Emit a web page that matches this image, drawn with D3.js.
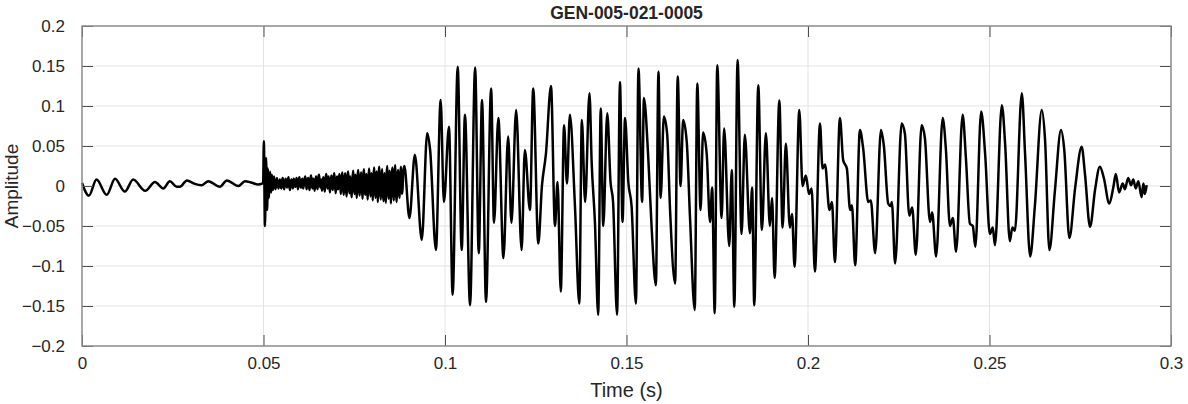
<!DOCTYPE html>
<html>
<head>
<meta charset="utf-8">
<script src="https://cdn.jsdelivr.net/npm/d3@7"></script>
<style>
  body { margin: 0; background: #fff; }
  svg text { font-family: "Liberation Sans", Arial, sans-serif; fill: #262626; }
</style>
</head>
<body>
<div class="chart"></div>
<script>
// Chart size
const width = 1188;
const height = 404;
const margin = {top: 26, right: 17, bottom: 58, left: 82};
const plotW = width - margin.left - margin.right;
const plotH = height - margin.top - margin.bottom;

const chartTitle = "GEN-005-021-0005";
const xLabel = "Time (s)";
const yLabel = "Amplitude";

const xTicks = [0, 0.05, 0.1, 0.15, 0.2, 0.25, 0.3];
const yTicks = [-0.2, -0.15, -0.1, -0.05, 0, 0.05, 0.1, 0.15, 0.2];

// Start: slow small wobble and the click at 0.05 s  (time s, amplitude)
const introTime = [0, 0.0019, 0.0040, 0.0068, 0.0091, 0.0118, 0.0141, 0.0174, 0.0201, 0.0224,
  0.0242, 0.0261, 0.0270, 0.0289, 0.0309, 0.0330, 0.0348, 0.0380, 0.0399, 0.0431,
  0.0449, 0.0468, 0.0485, 0.0496, 0.0499, 0.0501, 0.0504, 0.0507, 0.0510, 0.0512,
  0.0515, 0.0518, 0.0521, 0.0523, 0.0526, 0.0529, 0.0533, 0.0537, 0.0541];
const introAmp = [0.004, -0.012, 0.008, -0.011, 0.009, -0.007, 0.008, -0.006, 0.005, -0.003,
  0.006, -0.001, -0.001, 0.007, 0.003, 0.001, 0.006, -0.001, 0.007, 0.000,
  0.006, 0.004, 0.002, 0.003, 0.004, 0.056, -0.050, 0.035, -0.030, 0.022,
  -0.015, 0.018, -0.008, 0.014, -0.005, 0.012, -0.004, 0.010, -0.003];

// Noisy stretch before voicing, sampled every 0.2 ms from 0.0545 s
const noiseStart = 0.0545;
const noiseStep = 0.0002;
const noiseAmp = [
  0.008, 0.002, -0.003, 0.006, 0.010, 0.001, -0.004, 0.005, 0.009, 0.003,
  -0.002, 0.007, 0.011, 0.000, -0.005, 0.004, 0.008, 0.002, -0.003, 0.009,
  0.006, -0.001, 0.003, 0.010, 0.004, -0.004, 0.007, 0.011, 0.002, -0.002,
  0.005, 0.009, -0.003, 0.001, 0.008, 0.012, 0.003, -0.004,
  0.006, 0.010, 0.000, -0.005, 0.008, 0.013, 0.002, -0.003, 0.009, 0.004,
  -0.006, 0.007, 0.012, 0.001, -0.004, 0.010, 0.014, 0.003, -0.002, 0.008,
  -0.006, 0.005, 0.011, 0.000, -0.007, 0.009, 0.015, 0.004, -0.003, 0.012,
  0.006, -0.008, 0.003, 0.013, 0.001, -0.005, 0.010, 0.016, 0.002, -0.009,
  0.007, 0.012, -0.004, 0.000, 0.015, 0.005, -0.010, 0.008, 0.017, 0.001,
  -0.011, 0.006, 0.016, -0.002, -0.013, 0.010, 0.018, 0.003, -0.009, 0.012,
  -0.004, -0.014, 0.008, 0.019, 0.000, -0.010, 0.014, 0.005, -0.015, 0.011,
  0.020, -0.003, -0.012, 0.009, 0.017, 0.002, -0.016, 0.013, 0.021, -0.006,
  -0.011, 0.015, 0.004, -0.017, 0.010, 0.022, -0.001, -0.013, 0.016, 0.007,
  -0.018, 0.012, 0.023, -0.004, -0.015, 0.018, 0.008, -0.020, 0.014, 0.024,
  -0.002, -0.017, 0.011, 0.021, -0.009, -0.019, 0.016, 0.006, -0.021, 0.013,
  0.025, -0.005, -0.016, 0.019, 0.009, -0.022, 0.010, 0.023, -0.003, -0.018,
  0.017, 0.026, -0.008, -0.020, 0.012, 0.020, -0.006, -0.015, 0.015, 0.024,
  -0.010, -0.004, 0.018
];

// Voiced part: peaks, troughs and shoulders
const voiceTime = [0.0888, 0.0902, 0.0917, 0.0936, 0.0951, 0.0959, 0.0975, 0.0988, 0.0997, 0.1011,
  0.1021, 0.1035, 0.1046, 0.1055, 0.1069, 0.1083, 0.1093, 0.1102, 0.1113, 0.1127,
  0.1135, 0.1147, 0.1161, 0.1174, 0.1183, 0.1196, 0.1211, 0.1220, 0.1234, 0.1243,
  0.1257, 0.1267, 0.1278, 0.1292, 0.1303, 0.1310, 0.1319, 0.1328, 0.1336, 0.1344,
  0.1358, 0.1370, 0.1377, 0.1386, 0.1398, 0.1404, 0.1413, 0.1422, 0.1429, 0.1436,
  0.1447, 0.1456, 0.1463, 0.1474, 0.1482, 0.1489, 0.1496, 0.1505, 0.1514, 0.1526,
  0.1533, 0.1543, 0.1548, 0.1560, 0.1569, 0.1581, 0.1588, 0.1594, 0.1603, 0.1612,
  0.1620, 0.1634, 0.1641, 0.1649, 0.1656, 0.1666, 0.1675, 0.1688, 0.1695, 0.1704,
  0.1711, 0.1721, 0.1730, 0.1736, 0.1743, 0.1750, 0.1762, 0.1769, 0.1783, 0.1790,
  0.1797, 0.1806, 0.1817, 0.1826, 0.1840, 0.1846, 0.1852, 0.1863, 0.1873, 0.1884,
  0.1895, 0.1901, 0.1908, 0.1921, 0.1930, 0.1939, 0.1950, 0.1956, 0.1963, 0.1976,
  0.1985, 0.1994, 0.2003, 0.2010, 0.2019, 0.2033, 0.2040, 0.2047, 0.2059, 0.2066,
  0.2074, 0.2088, 0.2097, 0.2107, 0.2116, 0.2121, 0.2130, 0.2143, 0.2152, 0.2166,
  0.2173, 0.2185, 0.2201, 0.2209, 0.2221, 0.2228, 0.2231, 0.2240, 0.2258, 0.2267,
  0.2279, 0.2287, 0.2297, 0.2313, 0.2322, 0.2336, 0.2342, 0.2353, 0.2371, 0.2380,
  0.2391, 0.2399, 0.2408, 0.2426, 0.2435, 0.2446, 0.2454, 0.2461, 0.2477, 0.2488,
  0.2501, 0.2509, 0.2515, 0.2534, 0.2543, 0.2556, 0.2563, 0.2570, 0.2589, 0.2598,
  0.2612, 0.2625, 0.2644, 0.2653, 0.2665, 0.2680, 0.2697, 0.2706, 0.2720, 0.2736,
  0.2754, 0.2763, 0.2777, 0.2791, 0.2804, 0.2815, 0.2830, 0.2841, 0.2848, 0.2857,
  0.2867, 0.2873, 0.2882, 0.2890, 0.2896, 0.2903, 0.2910, 0.2919, 0.2924, 0.2928,
  0.2933];
const voiceAmp = [0.025, -0.040, 0.039, -0.0675, 0.066, 0.045, -0.080, 0.1075, -0.020, 0.074,
  -0.136, 0.149, -0.080, 0.089, -0.149, 0.148, -0.084, 0.1075, -0.145, 0.122,
  -0.046, 0.085, -0.090, 0.062, -0.046, 0.095, -0.080, 0.045, -0.030, 0.122,
  -0.072, 0.000, 0.040, 0.125, -0.050, 0.005, -0.132, 0.076, 0.003, 0.089,
  -0.025, -0.147, 0.0825, -0.020, 0.116, 0.030, -0.045, -0.161, 0.097, -0.050,
  0.091, 0.005, -0.020, -0.161, 0.130, -0.045, 0.085, 0.005, -0.025, -0.147,
  0.147, -0.020, 0.110, 0.035, -0.050, -0.124, 0.143, -0.015, 0.087, 0.065,
  -0.030, -0.122, 0.137, 0.000, 0.0825, 0.055, -0.040, -0.155, 0.128, -0.030,
  0.067, 0.040, -0.045, -0.002, -0.159, 0.151, -0.040, 0.072, -0.075, 0.020,
  -0.151, 0.1575, -0.060, 0.064, -0.059, -0.002, -0.149, 0.126, -0.055, 0.066,
  -0.050, -0.015, -0.115, 0.107, -0.052, 0.053, -0.052, -0.035, -0.101, 0.095,
  0.000, 0.013, -0.010, -0.003, -0.107, 0.078, 0.022, 0.027, -0.030, -0.020,
  -0.095, 0.085, 0.032, 0.022, -0.030, -0.024, -0.099, 0.070, 0.047, -0.020,
  -0.018, -0.084, 0.070, 0.050, -0.022, -0.025, -0.020, -0.097, 0.078, 0.065,
  -0.037, -0.027, -0.086, 0.076, 0.060, -0.045, -0.033, -0.088, 0.085, 0.045,
  -0.050, -0.040, -0.082, 0.089, 0.035, -0.047, -0.050, -0.076, 0.093, 0.040,
  -0.060, -0.052, -0.074, 0.101, 0.053, -0.069, -0.052, -0.056, 0.116, 0.040,
  -0.088, -0.025, 0.095, 0.058, -0.080, -0.007, 0.070, 0.045, -0.065, -0.002,
  0.049, 0.015, -0.051, -0.004, 0.024, 0.010, -0.022, -0.002, 0.015, -0.008,
  0.003, -0.004, 0.010, 0.001, 0.008, -0.003, 0.006, -0.014, 0.003, -0.010,
  0.001];

// Build the sample list
const samples = [];
introTime.forEach((t, i) => samples.push([t, introAmp[i]]));
noiseAmp.forEach((a, i) => samples.push([noiseStart + i * noiseStep, a]));
voiceTime.forEach((t, i) => samples.push([t, voiceAmp[i]]));

const svg = d3.select(".chart").append("svg")
  .attr("width", width)
  .attr("height", height)
  .style("background", "#fff");

const g = svg.append("g")
  .attr("transform", `translate(${margin.left},${margin.top})`);

const x = d3.scaleLinear().domain([0, 0.3]).range([0, plotW]);
const y = d3.scaleLinear().domain([-0.2, 0.2]).range([plotH, 0]);

// grid
g.append("g").selectAll("line").data(xTicks.slice(1, -1)).join("line")
  .attr("x1", d => x(d)).attr("x2", d => x(d))
  .attr("y1", 0).attr("y2", plotH)
  .attr("stroke", "#e3e3e3").attr("stroke-width", 1);
g.append("g").selectAll("line").data(yTicks.slice(1, -1)).join("line")
  .attr("x1", 0).attr("x2", plotW)
  .attr("y1", d => y(d)).attr("y2", d => y(d))
  .attr("stroke", "#e3e3e3").attr("stroke-width", 1);

// waveform
const line = d3.line()
  .curve(d3.curveMonotoneX)
  .x(d => x(d[0]))
  .y(d => y(d[1]));

g.append("path")
  .datum(samples)
  .attr("fill", "none")
  .attr("stroke", "#000")
  .attr("stroke-width", 2.5)
  .attr("stroke-linejoin", "round")
  .attr("d", line);

// axes, MATLAB style ticks pointing inward on all four sides
const fmt = d => d3.format("")(+d.toFixed(2));
const tickLen = 11;

const axisBottom = d3.axisBottom(x).tickValues(xTicks).tickFormat(fmt).tickSizeInner(-tickLen).tickSizeOuter(0).tickPadding(11);
const axisTop = d3.axisTop(x).tickValues(xTicks).tickFormat("").tickSizeInner(-tickLen).tickSizeOuter(0);
const axisLeft = d3.axisLeft(y).tickValues(yTicks).tickFormat(fmt).tickSizeInner(-tickLen).tickSizeOuter(0).tickPadding(17);
const axisRight = d3.axisRight(y).tickValues(yTicks).tickFormat("").tickSizeInner(-tickLen).tickSizeOuter(0);

function styleAxis(sel) {
  sel.select(".domain").remove();
  sel.selectAll(".tick line").attr("stroke", "#4d4d4d").attr("stroke-width", 1);
  sel.selectAll(".tick text").attr("font-size", 17).attr("fill", "#262626")
    .attr("font-family", "'Liberation Sans', Arial, sans-serif");
}

g.append("g").attr("transform", `translate(0,${plotH})`).call(axisBottom).call(styleAxis);
g.append("g").call(axisTop).call(styleAxis);
g.append("g").call(axisLeft).call(styleAxis);
g.append("g").attr("transform", `translate(${plotW},0)`).call(axisRight).call(styleAxis);

// box
g.append("rect")
  .attr("x", 0).attr("y", 0)
  .attr("width", plotW).attr("height", plotH)
  .attr("fill", "none")
  .attr("stroke", "#8a8a8a")
  .attr("stroke-width", 1.5);

// titles
svg.append("text")
  .attr("x", margin.left + plotW / 2).attr("y", 19)
  .attr("text-anchor", "middle")
  .attr("font-size", 17.5).attr("font-weight", "bold")
  .attr("fill", "#000")
  .text(chartTitle);

svg.append("text")
  .attr("x", margin.left + plotW / 2).attr("y", 397)
  .attr("text-anchor", "middle")
  .attr("font-size", 20)
  .text(xLabel);

svg.append("text")
  .attr("transform", `translate(18,${margin.top + plotH / 2}) rotate(-90)`)
  .attr("text-anchor", "middle")
  .attr("font-size", 19)
  .text(yLabel);
</script>
</body>
</html>
